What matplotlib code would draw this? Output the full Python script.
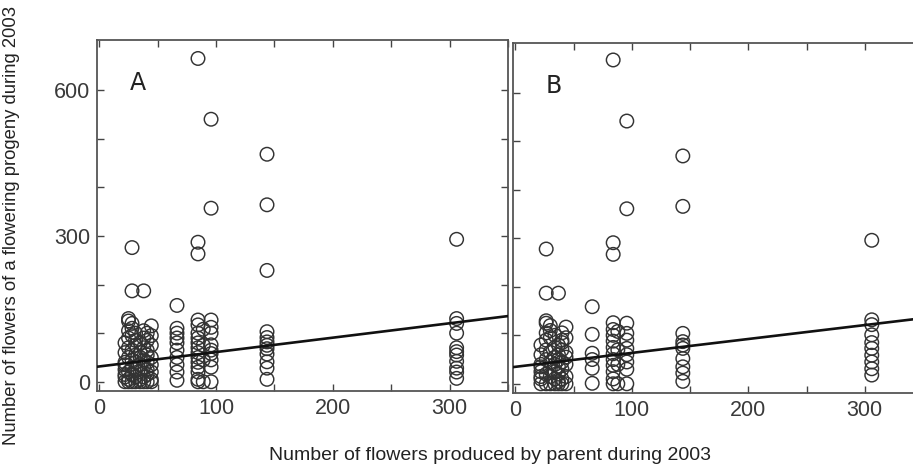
import numpy as np
import matplotlib
matplotlib.use("Agg")
import matplotlib.pyplot as plt

plt.rcParams['font.family'] = ['Liberation Sans', 'DejaVu Sans']

# ---------------- data ----------------
# Panel A
a_x = ([22]*8 + [25]*9 + [28]*10 + [31]*8 + [35]*7 + [38]*8 + [41]*8 + [44.5]*8
       + [66.5]*10 + [84.5]*16 + [89]*4 + [95.7]*11 + [143.6]*12 + [306]*11)
a_y = ([0, 10, 25, 40, 60, 80, 35, 15]
       + [0, 20, 50, 70, 90, 105, 125, 130, 5]
       + [0, 15, 30, 45, 65, 95, 110, 120, 187, 276]
       + [0, 10, 25, 40, 55, 75, 100, 85]
       + [0, 5, 20, 35, 60, 80, 50]
       + [0, 10, 30, 45, 70, 90, 105, 187]
       + [0, 15, 25, 40, 55, 65, 85, 100]
       + [0, 5, 20, 35, 50, 75, 95, 115]
       + [157, 110, 100, 90, 80, 65, 50, 35, 20, 3]
       + [665, 287, 263, 127, 117, 100, 90, 80, 70, 60, 50, 40, 30, 20, 5, 0]
       + [108, 75, 45, 0]
       + [540, 357, 127, 112, 100, 76, 65, 58, 45, 30, 0]
       + [468, 364, 229, 103, 91, 82, 75, 68, 57, 41, 28, 5]
       + [293, 130, 120, 100, 70, 62, 55, 42, 28, 20, 7])
a_fit_intercept = 31.5
a_fit_slope = 0.296

# Panel B
b_x = ([22]*8 + [26.5]*10 + [30]*8 + [34]*7 + [37]*8 + [40]*8 + [43.5]*7
       + [66]*6 + [84]*14 + [88]*4 + [95.7]*10 + [143.8]*10 + [306]*10)
b_y = ([0, 10, 25, 40, 60, 80, 35, 15]
       + [0, 20, 50, 70, 90, 105, 125, 130, 187, 278]
       + [0, 15, 30, 45, 65, 95, 110, 120]
       + [0, 10, 25, 40, 55, 75, 100]
       + [0, 5, 20, 35, 60, 80, 50, 187]
       + [0, 10, 30, 45, 70, 90, 105, 85]
       + [0, 15, 40, 65, 95, 117, 55]
       + [159, 102, 63, 50, 32, 1]
       + [668, 291, 267, 126, 112, 100, 88, 75, 62, 50, 38, 25, 10, 0]
       + [108, 70, 40, 0]
       + [542, 361, 125, 104, 90, 73, 60, 45, 30, 0]
       + [470, 366, 104, 87, 80, 73, 52, 35, 22, 5]
       + [296, 132, 122, 101, 85, 73, 59, 45, 31, 18])
b_fit_intercept = 35.0
b_fit_slope = 0.287

panel_labels = ["A", "B"]
x_ticks = [0, 100, 200, 300]
x_minor = [50, 150, 250, 350]
y_ticks = [0, 300, 600]
y_minor = [100, 200, 400, 500]
xlabel = "Number of flowers produced by parent during 2003"
ylabel = "Number of flowers of a flowering progeny during 2003"

# ---------------- figure ----------------
W, H = 913, 469
fig = plt.figure(figsize=(W/100, H/100), dpi=100)

def frac(l, t, r, b):
    return [l/W, 1 - b/H, (r-l)/W, (b-t)/H]

axA = fig.add_axes(frac(97, 40, 508, 391))
axB = fig.add_axes(frac(513, 43, 923, 393))

ec = '#333333'
for ax, xs, ys, b0, b1, lab, show_y in [
        (axA, a_x, a_y, a_fit_intercept, a_fit_slope, panel_labels[0], True),
        (axB, b_x, b_y, b_fit_intercept, b_fit_slope, panel_labels[1], False)]:
    ax.scatter(xs, ys, s=95, facecolors='none', edgecolors=ec, linewidths=1.05,
               zorder=2, clip_on=False)
    xl = np.array([-2, 350])
    ax.plot(xl, b0 + b1*xl, color='#111111', lw=1.9, zorder=3)
    ax.set_xlim(-2, 350)
    ax.set_ylim(-19, 703)
    ax.set_xticks(x_ticks)
    ax.set_xticks(x_minor, minor=True)
    ax.set_yticks(y_ticks)
    ax.set_yticks(y_minor, minor=True)
    ax.tick_params(which='both', direction='in', top=True, right=True,
                   length=5, width=1.0, color='#444444',
                   labelsize=15.5, labelcolor='#3a3a3a', pad=5)
    if not show_y:
        ax.tick_params(axis='y', labelleft=False)
    for s in ax.spines.values():
        s.set_color('#555555')
        s.set_linewidth(1.3)
    ax.text(0.1, 0.877, lab, transform=ax.transAxes, fontsize=17,
            color='#222222', ha='center', va='center', family=['DejaVu Sans'])

fig.text(490/W, 1 - 455/H, xlabel, ha='center', va='center', fontsize=14,
         color='#222222')
fig.text(12/W, 1 - 225/H, ylabel, ha='center', va='center', fontsize=13.3,
         color='#222222', rotation=90)

fig.savefig("out.png", dpi=100)
